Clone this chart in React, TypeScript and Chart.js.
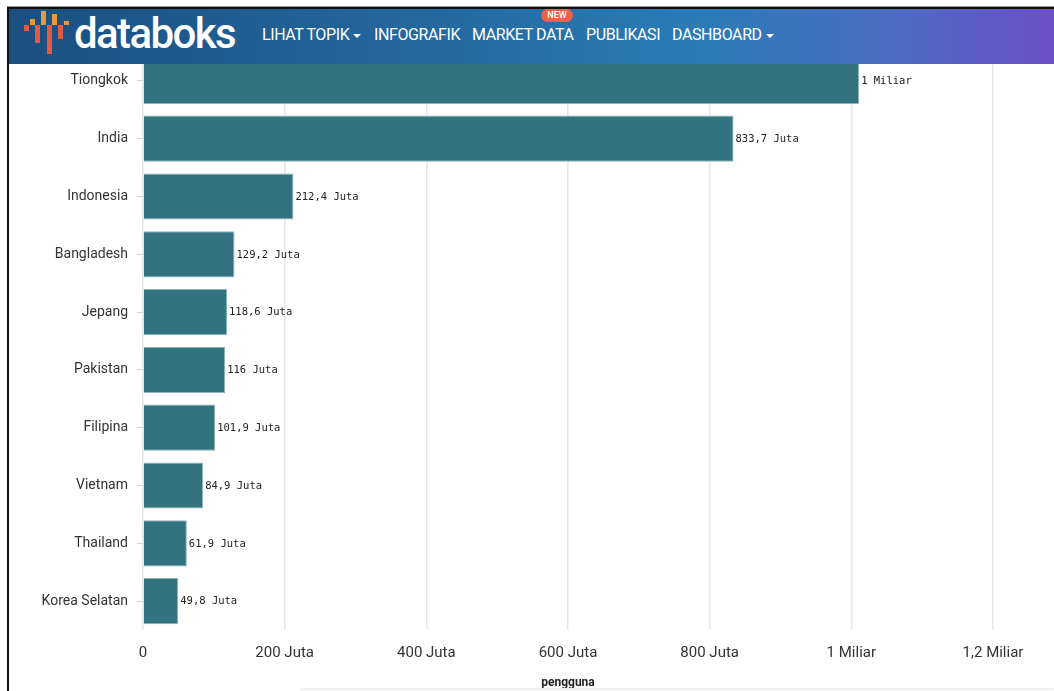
import React, { useEffect, useRef } from "react";
import { Chart, registerables } from "chart.js";

Chart.register(...registerables);

const categories = [
  "Tiongkok",
  "India",
  "Indonesia",
  "Bangladesh",
  "Jepang",
  "Pakistan",
  "Filipina",
  "Vietnam",
  "Thailand",
  "Korea Selatan",
];

const users = [
  1011e6, 833.7e6, 212.4e6, 129.2e6, 118.6e6, 116e6, 101.9e6, 84.9e6, 61.9e6, 49.8e6,
];

const xTickValues = [0, 2e8, 4e8, 6e8, 8e8, 1e9, 1.2e9];
const axisTitle = "pengguna";
const navItems = ["LIHAT TOPIK", "INFOGRAFIK", "MARKET DATA", "PUBLIKASI", "DASHBOARD"];

function fmt(v: number): string {
  if (v === 0) return "0";
  if (v >= 1e9) {
    const n = Number((v / 1e9).toFixed(1));
    return String(n).replace(".", ",") + " Miliar";
  }
  const n = Number((v / 1e6).toFixed(1));
  return String(n).replace(".", ",") + " Juta";
}

const valueLabels = {
  id: "valueLabels",
  afterDatasetsDraw(chart: any) {
    const ctx = chart.ctx;
    const meta = chart.getDatasetMeta(0);
    ctx.save();
    ctx.font = '10.5px "DejaVu Sans Mono"';
    ctx.fillStyle = "#222";
    ctx.textAlign = "left";
    ctx.textBaseline = "middle";
    meta.data.forEach((el: any, i: number) => {
      ctx.fillText(fmt(chart.data.datasets[0].data[i]), el.x + 2, el.y + 0.5);
    });
    ctx.restore();
  },
};

function ChartCanvas() {
  const ref = useRef<HTMLCanvasElement | null>(null);
  useEffect(() => {
    document.body.style.overflow = "hidden";
    const chart = new Chart(ref.current as HTMLCanvasElement, {
      type: "bar",
      data: {
        labels: categories,
        datasets: [
          {
            data: users,
            backgroundColor: "#33727f",
            borderColor: "#8db3bd",
            borderWidth: 1,
            barPercentage: 0.8,
            categoryPercentage: 1,
          },
        ],
      },
      options: {
        indexAxis: "y",
        animation: false,
        responsive: false,
        devicePixelRatio: 1,
        layout: { padding: { top: 43, right: 61, left: 0, bottom: 0 } },
        plugins: {
          legend: { display: false },
          tooltip: { enabled: false },
        },
        scales: {
          x: {
            min: 0,
            max: 1.2e9,
            afterFit: (s: any) => {
              s.height = 61;
            },
            afterBuildTicks: (s: any) => {
              s.ticks = xTickValues.map((v) => ({ value: v }));
            },
            border: { display: false },
            grid: { color: "#e6e6e6", lineWidth: 1.5, drawTicks: false },
            ticks: {
              padding: 14,
              color: "#333",
              font: { family: "Roboto", size: 15 },
              maxRotation: 0,
              callback: (v: any) => fmt(Number(v)),
            },
            title: {
              display: true,
              text: axisTitle,
              color: "#222",
              font: { family: "Roboto", size: 12, weight: "bold" },
              padding: { top: 0, bottom: 1 },
            },
          },
          y: {
            afterFit: (s: any) => {
              s.width = 133;
            },
            border: { display: false },
            grid: {
              drawOnChartArea: false,
              drawTicks: true,
              tickLength: 6,
              color: "#d5d5d5",
              offset: false,
            },
            ticks: {
              padding: 9,
              color: "#333",
              font: { family: "Roboto", size: 14 },
            },
          },
        },
      },
      plugins: [valueLabels],
    } as any);
    return () => chart.destroy();
  }, []);
  return (
    <canvas
      ref={ref}
      width={1044}
      height={682}
      style={{ position: "absolute", left: 10, top: 9, width: 1044, height: 682 }}
    />
  );
}

const iconBars = [
  { x: 24, y: 25, h: 6, c: "#e05a45" },
  { x: 30, y: 19, h: 6, c: "#e8993a" },
  { x: 35, y: 25, h: 18, c: "#e05a45" },
  { x: 41, y: 11, h: 14, c: "#e8993a" },
  { x: 47, y: 25, h: 29, c: "#e05a45" },
  { x: 52, y: 14, h: 11, c: "#e8993a" },
  { x: 58, y: 25, h: 14, c: "#e05a45" },
  { x: 64, y: 21, h: 4, c: "#e8993a" },
];

const navX = [262, 374, 472, 586, 672];

function Caret({ x }: { x: number }) {
  return (
    <div
      style={{
        position: "absolute",
        left: x,
        top: 34,
        width: 0,
        height: 0,
        borderLeft: "4px solid transparent",
        borderRight: "4px solid transparent",
        borderTop: "4px solid #fff",
      }}
    />
  );
}

export default function App() {
  return (
    <div>
      <ChartCanvas />
      {/* frame */}
      <div style={{ position: "absolute", left: 7, top: 6, width: 1047, height: 1, background: "#999" }} />
      <div style={{ position: "absolute", left: 7, top: 7, width: 1047, height: 2, background: "#111" }} />
      <div style={{ position: "absolute", left: 7, top: 7, width: 2, height: 684, background: "#111" }} />
      <div style={{ position: "absolute", left: 300, top: 688, width: 754, height: 3, background: "linear-gradient(#ededed, #f7f7f7)" }} />
      {/* header */}
      <div
        style={{
          position: "absolute",
          left: 9,
          top: 9,
          width: 1045,
          height: 55,
          background: "linear-gradient(90deg, #1b4f80 0%, #22659c 35%, #2a7cb7 66%, #4d6cc2 85%, #6c4fc9 100%)",
          overflow: "hidden",
          fontFamily: "Roboto",
        }}
      />
      {iconBars.map((b, i) => (
        <div key={i} style={{ position: "absolute", left: b.x, top: b.y, width: 5, height: b.h, background: b.c }} />
      ))}
      <div
        style={{
          position: "absolute",
          left: 74,
          top: 13,
          fontFamily: "Roboto",
          fontWeight: 500,
          fontSize: 42,
          lineHeight: "42px",
          letterSpacing: -1.6,
          color: "#fff",
          whiteSpace: "nowrap",
        }}
      >
        databoks
      </div>
      {navItems.map((t, i) => (
        <div
          key={t}
          style={{
            position: "absolute",
            left: navX[i],
            top: 27,
            fontFamily: "Roboto",
            fontSize: 16,
            lineHeight: "16px",
            letterSpacing: -0.4,
            color: "#fff",
            whiteSpace: "nowrap",
          }}
        >
          {t}
        </div>
      ))}
      <Caret x={353} />
      <Caret x={766} />
      <div
        style={{
          position: "absolute",
          left: 541,
          top: 9,
          width: 32,
          height: 13,
          borderRadius: 7,
          background: "#f0604f",
          color: "#fff",
          fontFamily: "Roboto",
          fontSize: 9,
          lineHeight: "13px",
          textAlign: "center",
          fontWeight: 500,
        }}
      >
        NEW
      </div>
    </div>
  );
}
